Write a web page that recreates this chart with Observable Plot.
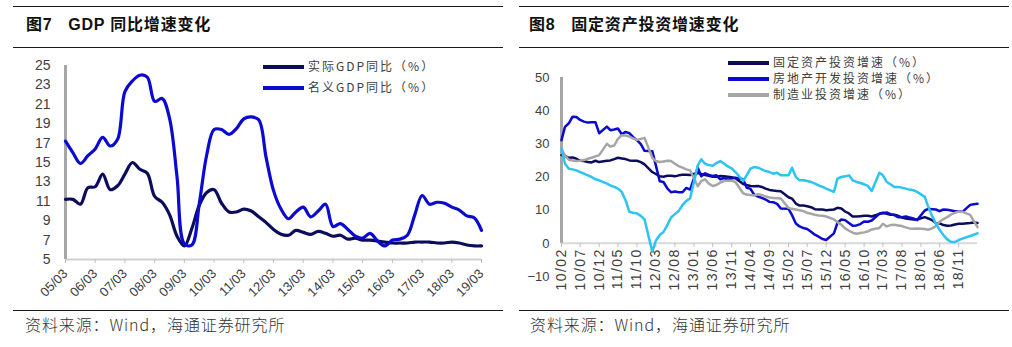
<!DOCTYPE html>
<html><head><meta charset="utf-8">
<script src="https://cdn.jsdelivr.net/npm/d3@7"></script>
<script src="https://cdn.jsdelivr.net/npm/@observablehq/plot@0.6"></script>
<style>
body{margin:0;background:#fff;width:1012px;height:347px;position:relative;overflow:hidden;font-family:"Liberation Sans","Noto Sans CJK SC",sans-serif;}
.rule{position:absolute;height:0;border-top:1.5px solid #1a1a1a}
.title{position:absolute;font-weight:bold;font-size:16px;color:#111;white-space:nowrap;line-height:20px;letter-spacing:0.8px;font-family:"Liberation Sans","Noto Sans CJK SC",sans-serif}
.src{position:absolute;font-size:16px;color:#333;white-space:nowrap;line-height:20px;letter-spacing:0.9px;font-family:"Noto Sans CJK SC",sans-serif;font-weight:300}
.leg{position:absolute;font-size:12px;color:#404040;letter-spacing:2px;white-space:nowrap;line-height:14px;font-family:"Noto Sans CJK SC",sans-serif}
.sw{position:absolute;height:4px}
.chart{position:absolute}
</style></head><body>
<div class="rule" style="left:13px;top:6px;width:490px"></div>
<div class="rule" style="left:13px;top:47px;width:490px"></div>
<div class="title" style="left:26px;top:15px">图7&nbsp;&nbsp; GDP 同比增速变化</div>
<div class="rule" style="left:519px;top:6px;width:490px"></div>
<div class="rule" style="left:519px;top:47px;width:490px"></div>
<div class="title" style="left:529px;top:15px">图8&nbsp;&nbsp; 固定资产投资增速变化</div>
<div id="left" class="chart" style="left:0;top:50px"></div>
<div id="right" class="chart" style="left:510px;top:50px"></div>
<div id="legL"></div><div id="legR"></div>
<div class="rule" style="left:13px;top:310px;width:490px"></div>
<div class="rule" style="left:519px;top:310px;width:490px"></div>
<div class="src" style="left:25px;top:314px">资料来源：Wind，海通证券研究所</div>
<div class="src" style="left:530px;top:314px">资料来源：Wind，海通证券研究所</div>
<script>
// ---------- Figure 7 data (quarterly, 2005Q1 - 2019Q1) ----------
const gdpTickLabels = ["05/03","06/03","07/03","08/03","09/03","10/03","11/03","12/03","13/03","14/03","15/03","16/03","17/03","18/03","19/03"];
const gdpYTicks = [5,7,9,11,13,15,17,19,21,23,25];
const gdpSeriesNames = ["实际GDP同比（%）","名义GDP同比（%）"];
const realGDP = [
  11.2,11.2,10.7,12.4,
  12.5,13.8,12.2,12.6,
  13.8,15.0,14.3,13.9,
  11.5,10.9,9.6,7.4,
  6.4,8.2,10.6,11.9,
  12.2,10.8,9.9,9.9,
  10.2,10.0,9.4,8.8,
  8.1,7.6,7.5,8.0,
  7.8,7.6,7.9,7.7,
  7.4,7.5,7.1,7.2,
  7.0,7.0,6.9,6.8,
  6.7,6.7,6.7,6.8,
  6.8,6.8,6.7,6.7,
  6.8,6.7,6.5,6.4,
  6.4];
const nominalGDP = [
  17.2,16.0,14.9,15.7,
  16.4,17.6,16.7,17.4,
  22.3,23.4,24.0,23.8,
  21.3,21.6,19.5,13.5,
  6.6,6.5,10.8,15.8,
  18.4,18.4,17.9,18.5,
  19.5,19.7,19.4,15.5,
  12.1,10.2,9.2,9.9,
  10.4,9.4,10.0,10.7,
  8.4,8.7,8.1,7.4,
  7.2,7.7,6.9,6.4,
  7.0,7.1,7.5,9.6,
  11.6,10.7,10.9,10.8,
  10.4,10.1,9.5,9.3,
  8.0];

// ---------- Figure 8 data (monthly cumulative, 2010-02 - 2019-04, no January) ----------
const faiTickLabels = ["10/02","10/07","10/12","11/05","11/10","12/03","12/08","13/01","13/06","13/11","14/04","14/09","15/02","15/07","15/12","16/05","16/10","17/03","17/08","18/01","18/06","18/11"];
const faiYTicks = [-10,0,10,20,30,40,50];
const faiSeriesNames = ["固定资产投资增速（%）","房地产开发投资增速（%）","制造业投资增速（%）"];
const faiTotal = [
  26.6,26.4,25.8,25.9,25.5,24.9,24.8,24.5,24.4,24.9,24.5,
  24.9,25.0,25.4,25.8,25.6,25.4,25.0,24.9,24.9,24.5,23.8,
  21.5,20.9,20.2,20.1,20.4,20.4,20.2,20.5,20.7,20.7,20.6,
  21.2,20.9,20.6,20.4,20.1,20.1,20.3,20.2,20.1,19.9,19.6,
  17.9,17.6,17.3,17.2,17.3,17.0,16.5,16.1,15.9,15.8,15.7,
  13.9,13.5,12.0,11.4,11.4,11.2,10.9,10.3,10.2,10.2,10.0,
  10.2,10.7,10.5,9.6,9.0,8.1,8.1,8.2,8.3,8.3,8.1,
  8.9,9.2,8.9,8.6,8.6,8.3,7.8,7.5,7.3,7.2,7.2,
  7.9,7.5,7.0,6.1,6.0,5.5,5.3,5.4,5.7,5.9,5.9,
  6.1,6.3,6.1];
const faiRealEstate = [
  31.1,35.1,36.2,38.2,38.1,37.2,36.7,36.4,36.5,36.5,33.2,
  35.2,34.1,34.3,34.6,32.9,33.6,33.2,32.0,31.1,29.9,27.9,
  27.8,23.5,18.7,18.5,16.6,15.4,15.6,15.4,15.4,16.7,16.2,
  22.8,20.2,21.1,20.6,20.3,20.5,19.3,19.7,19.2,19.5,19.8,
  19.3,16.8,16.4,14.7,14.1,13.7,13.2,12.5,12.4,11.9,10.5,
  10.4,8.5,6.0,5.1,4.6,4.3,3.5,2.6,2.0,1.3,1.0,
  3.0,6.2,7.2,7.0,6.1,5.3,5.4,5.8,6.6,6.5,6.9,
  8.9,9.1,9.3,8.8,8.5,7.9,7.9,8.1,7.8,7.5,7.0,
  9.9,10.4,10.3,10.2,9.7,10.2,10.1,9.9,9.7,9.7,9.5,
  11.6,11.8,11.9];
const faiManufacturing = [
  28.5,26.5,25.2,25.0,24.8,24.9,25.1,25.5,25.8,26.2,26.6,
  30.0,29.2,29.5,31.5,32.6,32.5,32.2,31.6,31.2,31.5,31.8,
  25.8,24.8,24.5,24.7,24.9,24.8,24.0,23.3,22.8,22.3,22.0,
  17.2,18.8,19.3,18.0,17.3,17.6,18.3,18.8,18.9,18.9,18.5,
  15.1,14.7,14.6,14.4,14.8,14.6,14.1,13.8,13.7,13.6,13.5,
  10.7,10.4,10.2,10.0,9.7,9.2,8.9,8.6,8.4,8.3,8.1,
  7.2,6.4,5.6,4.5,3.8,3.2,2.9,3.1,3.3,3.6,4.2,
  4.6,5.9,5.1,5.5,5.6,5.4,5.2,4.8,4.5,4.4,4.5,
  4.3,4.1,4.5,5.2,6.6,7.3,7.9,8.7,9.2,9.6,9.5,
  8.6,6.8,4.9];
const faiInfra = [
  28.5,24.0,22.5,22.3,22.0,21.5,21.0,20.5,20.0,19.3,19.0,
  18.0,17.5,17.0,16.5,15.5,13.0,9.5,9.2,9.0,8.3,7.2,
  -2.5,0.8,2.5,3.4,5.5,7.8,8.8,9.8,11.5,12.8,13.5,
  23.5,25.3,24.0,23.6,23.4,24.2,24.8,24.0,23.2,22.6,21.5,
  18.8,20.5,22.5,23.0,22.8,22.3,21.8,21.5,21.0,21.3,20.5,
  20.5,22.8,20.0,19.0,19.0,18.8,18.5,18.0,17.5,17.0,16.5,
  15.5,19.5,20.0,20.2,20.5,19.0,18.5,18.2,17.8,17.3,15.8,
  21.3,20.5,18.5,17.8,17.0,17.0,16.8,16.5,16.2,16.0,15.5,
  14.0,11.0,8.2,6.0,4.0,2.5,1.2,0.4,0.4,1.0,1.4,
  2.2,2.6,3.0];

// ---------- helpers ----------
const parseYM = d3.utcParse("%y/%m");
const fmtYM = d3.utcFormat("%y/%m");
const quarters = d3.utcMonth.range(parseYM("05/03"), d3.utcDay.offset(parseYM("19/03"), 1), 3);
const months = d3.utcMonth.range(parseYM("10/02"), d3.utcDay.offset(parseYM("19/04"), 1)).filter(d => d.getUTCMonth() !== 0);

const C_NAVY = "#0c0c5c", C_BLUE = "#0a0ad0", C_GRAY = "#a6a6a6", C_CYAN = "#2cc4f2";
const AX = "#bfbfbf", TXT = "#404040";

// ---------- Figure 7 ----------
const gdpTicks = gdpTickLabels.map(parseYM);
const left = Plot.plot({
  width: 500, height: 250,
  marginLeft: 65, marginRight: 19, marginTop: 15, marginBottom: 41,
  style: {fontFamily: "Liberation Sans, Arial, sans-serif", background: "transparent", overflow: "visible"},
  x: {type: "utc", domain: [gdpTicks[0], gdpTicks[gdpTicks.length - 1]]},
  y: {domain: [gdpYTicks[0], gdpYTicks[gdpYTicks.length - 1]]},
  marks: [
    Plot.ruleY([gdpYTicks[0]], {stroke: "#d0d0d0", strokeWidth: 2}),
    Plot.axisX({ticks: gdpTicks, tickFormat: fmtYM, tickRotate: -45, tickSize: 4, tickPadding: 8, stroke: AX, fill: TXT, fontSize: 13, label: null}),
    Plot.axisY({ticks: gdpYTicks, tickSize: 0, tickPadding: 15, fill: TXT, fontSize: 14, label: null}),
    Plot.ruleX([gdpTicks[0]], {y1: gdpYTicks[0], y2: gdpYTicks[gdpYTicks.length - 1], stroke: C_GRAY, strokeWidth: 3}),
    Plot.line(realGDP, {x: (d, i) => quarters[i], y: d => d, stroke: C_NAVY, strokeWidth: 3.2, curve: "catmull-rom"}),
    Plot.line(nominalGDP, {x: (d, i) => quarters[i], y: d => d, stroke: C_BLUE, strokeWidth: 3.2, curve: "catmull-rom"})
  ]
});
document.getElementById("left").append(left);

// ---------- Figure 8 ----------
const faiTicks = faiTickLabels.map(parseYM);
const right = Plot.plot({
  width: 500, height: 250,
  marginLeft: 51, marginRight: 33, marginTop: 27, marginBottom: 24,
  style: {fontFamily: "Liberation Sans, Arial, sans-serif", background: "transparent", overflow: "visible"},
  x: {type: "utc", domain: [months[0], months[months.length - 1]], axis: null},
  y: {domain: [faiYTicks[0], faiYTicks[faiYTicks.length - 1]]},
  marks: [
    Plot.axisY({ticks: faiYTicks, tickSize: 0, tickPadding: 12, fill: TXT, fontSize: 13, label: null}),
    Plot.ruleY([0], {stroke: "#d9d9d9", strokeWidth: 2}),
    Plot.ruleX(faiTicks, {x: d => d, y1: 0, y2: -1.3, stroke: AX, strokeWidth: 1}),
    Plot.text(faiTickLabels, {x: d => parseYM(d), y: () => 0, text: d => d, rotate: -90, textAnchor: "end", dy: 5, fill: TXT, fontSize: 14}),
    Plot.ruleX([months[0]], {y1: 0, y2: faiYTicks[faiYTicks.length - 1], stroke: C_GRAY, strokeWidth: 3}),
    Plot.line(faiTotal, {x: (d, i) => months[i], y: d => d, stroke: C_NAVY, strokeWidth: 2.5, curve: "linear"}),
    Plot.line(faiRealEstate, {x: (d, i) => months[i], y: d => d, stroke: C_BLUE, strokeWidth: 2.5, curve: "linear"}),
    Plot.line(faiManufacturing, {x: (d, i) => months[i], y: d => d, stroke: C_GRAY, strokeWidth: 2.5, curve: "linear"}),
    Plot.line(faiInfra, {x: (d, i) => months[i], y: d => d, stroke: C_CYAN, strokeWidth: 2.5, curve: "linear"})
  ]
});
d3.select(right).selectAll('g[aria-label="text"] text').attr("letter-spacing", "1.4px");
document.getElementById("right").append(right);

// ---------- legends ----------
function legend(id, items, x0, y0, dy, swW) {
  const host = document.getElementById(id);
  items.forEach(([name, color], i) => {
    const y = y0 + i * dy;
    const sw = document.createElement("div");
    sw.className = "sw"; sw.style.left = x0 + "px"; sw.style.top = (y - 2) + "px"; sw.style.width = swW + "px"; sw.style.background = color;
    const t = document.createElement("div");
    t.className = "leg"; t.style.left = (x0 + swW + 4) + "px"; t.style.top = (y - 8) + "px"; t.textContent = name;
    host.append(sw, t);
  });
}
legend("legL", [[gdpSeriesNames[0], C_NAVY], [gdpSeriesNames[1], C_BLUE]], 263, 67, 21, 41);
legend("legR", [[faiSeriesNames[0], C_NAVY], [faiSeriesNames[1], C_BLUE], [faiSeriesNames[2], C_GRAY]], 728, 63, 16, 41);
</script>
</body></html>
